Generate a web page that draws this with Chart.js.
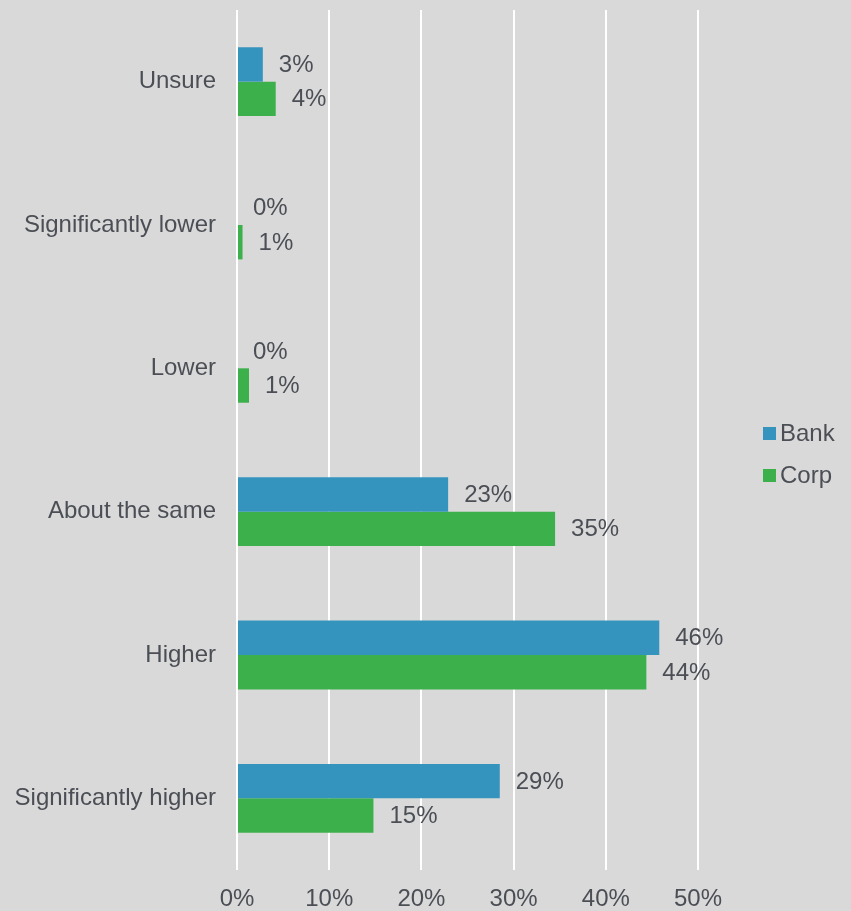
<!DOCTYPE html>
<html lang="en">
<head>
  <meta charset="UTF-8">
  <title>Bank vs Corp</title>
  <script src="https://cdn.jsdelivr.net/npm/chart.js"></script>
  <style>
    html, body {
      margin: 0;
      padding: 0;
      background: #d9d9d9;
    }
    .chart-container {
      width: 851px;
      height: 911px;
    }
  </style>
</head>
<body>
  <div class="chart-container">
    <canvas id="bankCorp"></canvas>
  </div>

  <script>
    const categories = [
      'Unsure',
      'Significantly lower',
      'Lower',
      'About the same',
      'Higher',
      'Significantly higher'
    ];
    const seriesNames = ['Bank', 'Corp'];
    const bankValues = [2.8, 0, 0, 22.9, 45.8, 28.5];
    const corpValues = [4.2, 0.6, 1.3, 34.5, 44.4, 14.8];
    const colors = ['#3494bd', '#3cb04b'];
    const textColor = '#4b4f55';
    const fontFamily = "'Liberation Sans', Arial, sans-serif";

    // value labels to the right of each bar
    const barLabels = {
      id: 'barLabels',
      afterDatasetsDraw(chart) {
        const ctx = chart.ctx;
        ctx.save();
        ctx.font = '24px ' + fontFamily;
        ctx.fillStyle = textColor;
        ctx.textAlign = 'left';
        ctx.textBaseline = 'middle';
        chart.data.datasets.forEach((ds, i) => {
          chart.getDatasetMeta(i).data.forEach((bar, j) => {
            ctx.fillText(Math.round(ds.data[j]) + '%', bar.x + 16, bar.y + 1);
          });
        });
        ctx.restore();
      }
    };

    // legend on the right
    const sideLegend = {
      id: 'sideLegend',
      afterDraw(chart) {
        const ctx = chart.ctx;
        ctx.save();
        ctx.font = '24px ' + fontFamily;
        ctx.textBaseline = 'middle';
        chart.data.datasets.forEach((ds, i) => {
          const y = 433 + i * 42;
          ctx.fillStyle = ds.backgroundColor;
          ctx.fillRect(763, y - 6, 13, 13);
          ctx.fillStyle = textColor;
          ctx.fillText(ds.label, 780, y + 1);
        });
        ctx.restore();
      }
    };

    new Chart(document.getElementById('bankCorp'), {
      type: 'bar',
      data: {
        labels: categories,
        datasets: [
          { label: seriesNames[0], data: bankValues, backgroundColor: colors[0] },
          { label: seriesNames[1], data: corpValues, backgroundColor: colors[1] }
        ]
      },
      options: {
        indexAxis: 'y',
        responsive: true,
        maintainAspectRatio: false,
        animation: false,
        barPercentage: 1,
        categoryPercentage: 0.48,
        layout: {
          padding: { left: 16, right: 153, top: 10, bottom: 0 }
        },
        scales: {
          x: {
            min: 0,
            max: 50,
            ticks: {
              stepSize: 10,
              padding: 15,
              color: textColor,
              font: { family: fontFamily, size: 24 },
              callback: (v) => v + '%'
            },
            grid: { color: '#ffffff', lineWidth: 2, drawTicks: false },
            border: { display: false },
            afterFit: (scale) => {
              scale.height = 41;
            }
          },
          y: {
            ticks: {
              padding: 21,
              color: textColor,
              font: { family: fontFamily, size: 24 }
            },
            grid: { display: false, drawTicks: false },
            border: { display: false },
            afterFit: (scale) => {
              scale.width = 221;
              scale.paddingTop = 0;
              scale.paddingBottom = 0;
            }
          }
        },
        plugins: {
          legend: { display: false },
          tooltip: { enabled: false }
        }
      },
      plugins: [barLabels, sideLegend]
    });
  </script>
</body>
</html>
